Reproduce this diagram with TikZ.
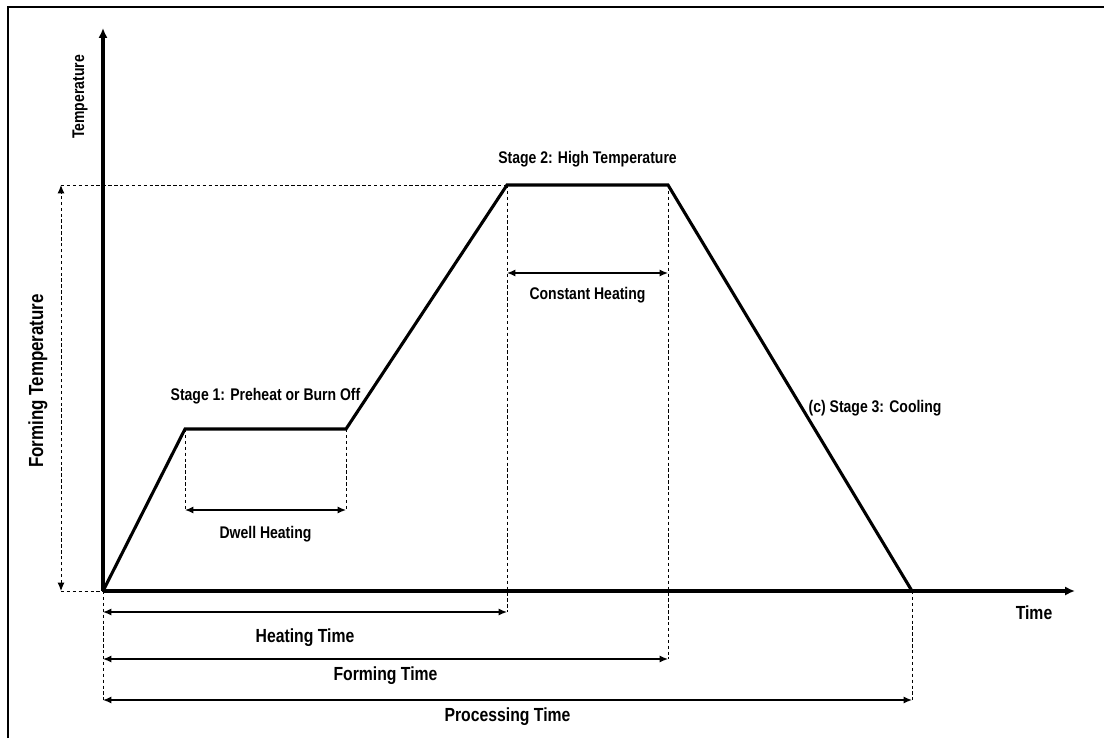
\documentclass[tikz,border=0pt]{standalone}
\usepackage{fontspec}
\setmainfont{Liberation Sans}[FakeStretch=0.83]
\usetikzlibrary{arrows.meta,positioning}

\begin{document}
\begin{tikzpicture}[
    x=0.025cm, y=-0.025cm,
    profile/.style={line width=2.2pt},
    axis/.style={line width=2.3pt, -{Latex[length=7pt,width=6.5pt]}},
    guide/.style={line width=0.7pt, dash pattern=on 2.4pt off 1.8pt},
    dim/.style={line width=0.9pt, {Latex[length=6pt,width=5pt]}-{Latex[length=6pt,width=5pt]}},
    lbl/.style={font=\bfseries\fontsize{12}{14}\selectfont, inner sep=1pt},
    biglbl/.style={font=\bfseries\fontsize{13.5}{16}\selectfont, inner sep=1pt}
  ]
  \useasboundingbox (0,0) rectangle (1104,738);
  \draw[line width=1.3pt] (8,738) -- (8,7) -- (1104,7);

  % corner points of the profile
  \coordinate (O) at (103,591);
  \coordinate (ytip) at (103,28);
  \coordinate (xtip) at (1075,591);
  \coordinate (s1a) at (185,429);
  \coordinate (s1b) at (346,429);
  \coordinate (s2a) at (507,185);
  \coordinate (s2b) at (668,185);
  \coordinate (s3) at (912,591);
  \coordinate (ftop) at (61,185);
  \coordinate (fbot) at (61,591);

  % ends of the dimension arrows
  \coordinate (dwA) at (185,510);
  \coordinate (dwB) at (346,510);
  \coordinate (chA) at (507,273);
  \coordinate (chB) at (668,273);
  \coordinate (htA) at (103,612);
  \coordinate (htB) at (507,612);
  \coordinate (fmA) at (103,659);
  \coordinate (fmB) at (668,659);
  \coordinate (ptA) at (103,700);
  \coordinate (ptB) at (912,700);

  \draw[guide] (O) -- (ptA);
  \draw[guide] (s1a) -- (dwA);
  \draw[guide] (s1b) -- (dwB);
  \draw[guide] (s2a) -- (htB);
  \draw[guide] (s2b) -- (fmB);
  \draw[guide] (s3) -- (ptB);
  \draw[guide] (ftop) -- (s2a);
  \draw[guide] (fbot) -- (O);
  \draw[guide, {Latex[length=6pt,width=5pt]}-{Latex[length=6pt,width=5pt]}] (fbot) -- (ftop);

  \draw[axis] (O) -- (ytip);
  \draw[axis] (O) -- (xtip);

  \draw[profile] (O) -- (s1a)
    -- node[lbl, above=15.5pt] (st1) {Stage 1: Preheat or Burn Off} (s1b)
    -- (s2a)
    -- node[lbl, above=10.7pt] (st2) {Stage 2: High Temperature} (s2b)
    -- node[lbl, pos=0.55, right=2.5pt] (st3) {(c) Stage 3: Cooling} (s3);

  \draw[dim] (dwA) -- node[lbl, below=10pt] (dwl) {Dwell Heating} (dwB);
  \draw[dim] (chA) -- node[lbl, below=9pt] (chl) {Constant Heating} (chB);
  \draw[dim] (htA) -- node[biglbl, below=10.5pt] (htl) {Heating Time} (htB);
  \draw[dim] (fmA) -- node[biglbl, below=4pt] (fml) {Forming Time} (fmB);
  \draw[dim] (ptA) -- node[biglbl, below=4pt] (ptl) {Processing Time} (ptB);

  \node[lbl, rotate=90] (templ) at (80,97) {Temperature};
  \node[biglbl, font=\bfseries\fontsize{14.5}{17}\selectfont, rotate=90] (ftl) at (38,381) {Forming Temperature};
  \node[biglbl] (timel) at (1034,613) {Time};
\end{tikzpicture}
\end{document}
